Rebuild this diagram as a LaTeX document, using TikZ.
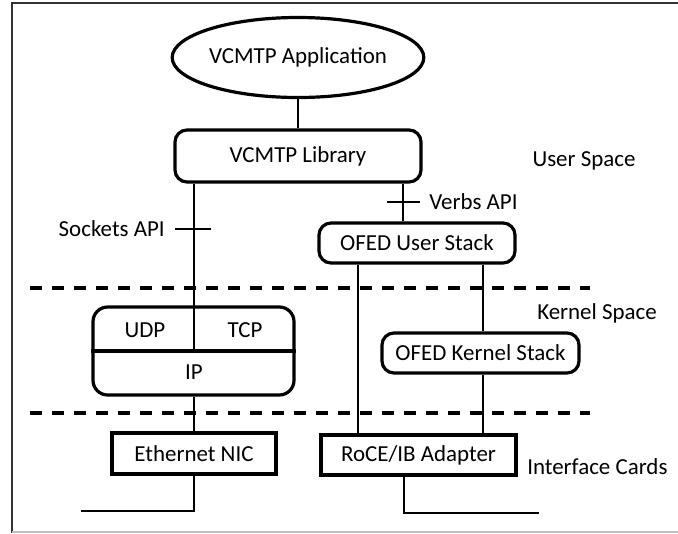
\documentclass[tikz,border=0pt]{standalone}
\usepackage{fontspec}
\setmainfont{Carlito}
\usetikzlibrary{shapes.geometric}
\tikzset{
  lbl/.style={font=\fontsize{17.2}{20}\selectfont, inner sep=0pt},
  rbox/.style={draw, line width=2.4pt, rounded corners=9pt, inner sep=0pt, font=\fontsize{17.2}{20}\selectfont},
  sbox/.style={draw, line width=2.6pt, inner sep=0pt, font=\fontsize{17.2}{20}\selectfont},
  conn/.style={line width=2pt},
  divline/.style={line width=2.6pt, dash pattern=on 9pt off 7.5pt},
}
\begin{document}
\begin{tikzpicture}[x=0.75pt, y=-0.75pt]
\useasboundingbox (0,0) rectangle (678,533);
% frame
\draw[line width=1.8pt, black!80] (12,533) -- (12,3) -- (680,3);
\draw[line width=1.2pt, black!25] (12,532) -- (680,532);

% nodes
\node[ellipse, draw, line width=2.4pt, minimum width=160.5pt, minimum height=60pt, inner sep=0pt, font=\fontsize{17.2}{20}\selectfont] (app) at (298,57.5) {VCMTP Application};
\node[rbox, minimum width=184.5pt, minimum height=39pt] (lib) at (298,156) {VCMTP Library};
\node[rbox, minimum width=147pt, minimum height=30pt] (ofedu) at (417,243) {OFED User Stack};
\node[rbox, rounded corners=11pt, minimum width=150.75pt, minimum height=66pt] (ipbox) at (193.5,351) {};
\node[rbox, minimum width=147.75pt, minimum height=30pt] (ofedk) at (480.5,353) {OFED Kernel Stack};
\node[sbox, minimum width=123pt, minimum height=30.75pt] (eth) at (194,453.5) {Ethernet NIC};
\node[sbox, minimum width=146.25pt, minimum height=30pt] (roce) at (418.5,455) {RoCE/IB Adapter};

\node[lbl] (udp) at (145,330) {UDP};
\node[lbl] (tcp) at (245,330) {TCP};
\node[lbl] (ip) at (194,372) {IP};

\node[lbl] (us) at (584,161) {User Space};
\node[lbl] (ks) at (597,313) {Kernel Space};
\node[lbl, anchor=west] (ic) at (527,467) {Interface Cards};
\node[lbl, anchor=west] (verbs) at (429,202) {Verbs API};
\node[lbl, anchor=east] (sock) at (165,229) {Sockets API};

% coordinates for connector x positions
\coordinate (xl) at (194,0);
\coordinate (xv) at (403,0);
\coordinate (xa) at (358,0);
\coordinate (xb) at (483,0);
\coordinate (xr) at (404,0);
\coordinate (ethend) at (81,511);
\coordinate (roceend) at (539,513);

% dividers
\draw[divline] (30,288) -- (590,288);
\draw[divline] (30,413) -- (590,413);

% connectors
\draw[conn] (app.south) -- (lib.north);
\draw[conn] (lib.south -| xl) -- (ipbox.center -| xl);
\draw[line width=2.4pt] (ipbox.west) -- (ipbox.east);
\draw[conn] (ipbox.south -| xl) -- (eth.north -| xl);
\draw[conn] (lib.south -| xv) -- (ofedu.north -| xv);
\draw[conn] (387,202) -- (420,202);
\draw[conn] (175,229) -- (211,229);
\draw[conn] (ofedu.south -| xa) -- (roce.north -| xa);
\draw[conn] (ofedu.south -| xb) -- (ofedk.north -| xb);
\draw[conn] (ofedk.south -| xb) -- (roce.north -| xb);
\draw[conn] (eth.south -| xl) |- (ethend);
\draw[conn] (roce.south -| xr) |- (roceend);
\end{tikzpicture}
\end{document}
